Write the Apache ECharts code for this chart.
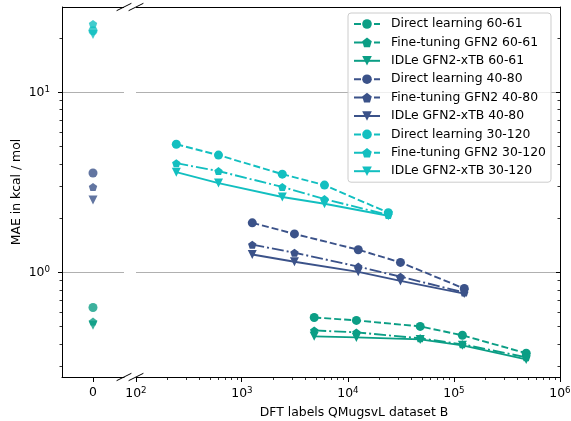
<!DOCTYPE html>
<html>
<head>
<meta charset="utf-8">
<script src="https://cdn.jsdelivr.net/npm/echarts@6/dist/echarts.min.js"></script>
<style>
  html, body { margin: 0; padding: 0; background: #fff; }
  #main { width: 571px; height: 421px; }
</style>
</head>
<body>
<div id="main"></div>
<script>
// number of DFT labels per training set size
var size6061 = [4800, 12000, 48000, 120000, 480000];
var size4080 = [1250, 3125, 12500, 31250, 125000];
var size30120 = [240, 600, 2400, 6000, 24000];

// MAE in kcal/mol
var direct6061 = [0.564, 0.543, 0.503, 0.449, 0.357];
var fine6061 = [0.478, 0.466, 0.432, 0.400, 0.339];
var idle6061 = [0.443, 0.437, 0.426, 0.395, 0.330];

var direct4080 = [1.89, 1.64, 1.34, 1.14, 0.816];
var fine4080 = [1.43, 1.29, 1.08, 0.95, 0.775];
var idle4080 = [1.26, 1.15, 1.01, 0.90, 0.765];

var direct30120 = [5.16, 4.49, 3.52, 3.06, 2.15];
var fine30120 = [4.05, 3.66, 2.99, 2.56, 2.09];
var idle30120 = [3.61, 3.14, 2.63, 2.41, 2.07];

// MAE with 0 DFT labels: direct, fine-tuning, IDLe
var zero6061 = [0.64, 0.535, 0.51];
var zero4080 = [3.57, 2.99, 2.53];
var zero30120 = [22.0, 24.0, 21.0];

// ticks
var xMajorTicks = [1e2, 1e3, 1e4, 1e5, 1e6];
var yMajorTicks = [1, 10];
var xMinorTicks = [];
[1e2, 1e3, 1e4, 1e5].forEach(function (d) {
  for (var k = 2; k <= 9; k++) xMinorTicks.push(k * d);
});
var yMinorTicks = [0.3, 0.4, 0.5, 0.6, 0.7, 0.8, 0.9, 2, 3, 4, 5, 6, 7, 8, 9, 20];

var chart = echarts.init(document.getElementById('main'));

var FONT = 'DejaVu Sans';
var pentagon = 'path://M0,-1L0.951,-0.309L0.588,0.809L-0.588,0.809L-0.951,-0.309Z';

// plot areas: left (0 labels) and right (log scale)
var G0 = { left: 62, top: 7, width: 62, height: 370 };
var G1 = { left: 136, top: 7, width: 424, height: 370 };
var BOTTOM = G0.top + G0.height;
var RIGHT = G1.left + G1.width;

var groups = [
  { tag: '60-61', color: '#0b9e85', x: size6061, vals: [direct6061, fine6061, idle6061], zero: zero6061 },
  { tag: '40-80', color: '#3b5289', x: size4080, vals: [direct4080, fine4080, idle4080], zero: zero4080 },
  { tag: '30-120', color: '#12bfc0', x: size30120, vals: [direct30120, fine30120, idle30120], zero: zero30120 }
];
var methods = [
  { name: 'Direct learning', symbol: 'circle', size: 9, rotate: 0, dash: [7, 3] },
  { name: 'Fine-tuning GFN2', symbol: pentagon, size: [8.4, 8], rotate: 0, dash: [12, 3, 2, 3] },
  { name: 'IDLe GFN2-xTB', symbol: 'triangle', size: 9, rotate: 180, dash: 'solid' }
];

var legendNames = [];
var series = [];
groups.forEach(function (g) {
  methods.forEach(function (m, i) {
    var name = m.name + ' ' + g.tag;
    legendNames.push(name);
    series.push({
      name: name,
      type: 'line',
      xAxisIndex: 1,
      yAxisIndex: 1,
      data: g.x.map(function (x, j) { return [x, g.vals[i][j]]; }),
      symbol: m.symbol,
      symbolSize: m.size,
      symbolRotate: m.rotate,
      showAllSymbol: true,
      color: g.color,
      itemStyle: { color: g.color },
      lineStyle: { color: g.color, width: 1.9, type: m.dash }
    });
    series.push({
      name: name + ' (0)',
      type: 'scatter',
      xAxisIndex: 0,
      yAxisIndex: 0,
      data: [[0, g.zero[i]]],
      symbol: m.symbol,
      symbolSize: m.size,
      symbolRotate: m.rotate,
      itemStyle: { color: g.color }
    });
  });
});

function powLabel(v) {
  var e = Math.log10(v);
  return Math.abs(e - Math.round(e)) < 1e-6 ? '10{sup|' + Math.round(e) + '}' : '';
}
function labelStyle(margin, values) {
  return {
    customValues: values, margin: margin, fontFamily: FONT, fontSize: 12.4, color: '#000',
    formatter: powLabel,
    rich: { sup: { fontSize: 8.7, fontFamily: FONT, color: '#000', padding: [0, 0, 6, 0] } }
  };
}
var gridLines = { show: true, customValues: yMajorTicks, lineStyle: { color: '#b0b0b0', width: 1 } };

var option = {
  animation: false,
  grid: [
    Object.assign({ outerBoundsMode: 'none' }, G0),
    Object.assign({ outerBoundsMode: 'none' }, G1)
  ],
  xAxis: [
    {
      gridIndex: 0, type: 'value', min: -1, max: 1, position: 'bottom',
      axisLine: { show: true, onZero: false, lineStyle: { color: '#000', width: 1 } },
      axisTick: { show: false },
      axisLabel: { customValues: [0], margin: 10, fontFamily: FONT, fontSize: 12.4, color: '#000' },
      splitLine: { show: false }
    },
    {
      gridIndex: 1, type: 'log', logBase: 10, min: 100, max: 1e6, position: 'bottom',
      name: 'DFT labels QMugsvL dataset B', nameLocation: 'middle', nameGap: 30,
      nameTextStyle: { fontFamily: FONT, fontSize: 12.4, color: '#000', padding: [0, 0, 0, 12] },
      axisLine: { show: true, onZero: false, lineStyle: { color: '#000', width: 1 } },
      axisTick: { show: false },
      axisLabel: labelStyle(9, xMajorTicks),
      splitLine: { show: false }
    }
  ],
  yAxis: [
    {
      gridIndex: 0, type: 'log', logBase: 10, min: 0.2635, max: 29.8, position: 'left',
      name: 'MAE in kcal / mol', nameLocation: 'middle', nameGap: 39,
      nameTextStyle: { fontFamily: FONT, fontSize: 12.4, color: '#000' },
      axisLine: { show: true, onZero: false, lineStyle: { color: '#000', width: 1 } },
      axisTick: { show: false },
      axisLabel: labelStyle(12, yMajorTicks),
      splitLine: gridLines
    },
    {
      gridIndex: 1, type: 'log', logBase: 10, min: 0.2635, max: 29.8, position: 'right',
      axisLine: { show: true, onZero: false, lineStyle: { color: '#000', width: 1 } },
      axisTick: { show: false },
      axisLabel: { show: false },
      splitLine: gridLines
    }
  ],
  legend: {
    data: legendNames,
    orient: 'vertical',
    left: 348,
    top: 13,
    padding: [5, 5, 5, 5],
    itemWidth: 26,
    itemHeight: 12,
    itemGap: 6.4,
    backgroundColor: 'rgba(255,255,255,0.8)',
    borderColor: '#cccccc',
    borderWidth: 1,
    borderRadius: 3,
    textStyle: { fontFamily: FONT, fontSize: 12.4, color: '#000', padding: [0, 0, 0, 6] }
  },
  series: series
};

chart.setOption(option);

// spines and ticks as thin filled boxes, placed through the axes' own scales
function box(x, y, w, h) {
  return {
    type: 'rect', silent: true, z: 50,
    shape: { x: x, y: y, width: w, height: h },
    style: { fill: '#000' }
  };
}
function seg(x1, y1, x2, y2) {
  return {
    type: 'line', silent: true, z: 50,
    shape: { x1: x1, y1: y1, x2: x2, y2: y2 },
    style: { stroke: '#000', lineWidth: 1 }
  };
}
function row(p) { return Math.round(p - 0.5); }

var deco = [];
var L = G0.left, R0 = G0.left + G0.width, T = G0.top, B = BOTTOM, R = RIGHT;
// spines
deco.push(box(L, T, 1, B - T + 1));
deco.push(box(R, T, 1, B - T + 1));
deco.push(box(L, T, R0 - L, 1));
deco.push(box(G1.left, T, R - G1.left + 1, 1));
// y ticks: outward on the left, inward on the right
yMajorTicks.forEach(function (v) {
  var y = row(chart.convertToPixel({ yAxisIndex: 0 }, v));
  deco.push(box(L - 4, y, 4, 1));
  deco.push(box(R - 4, y, 4, 1));
});
yMinorTicks.forEach(function (v) {
  var y = row(chart.convertToPixel({ yAxisIndex: 0 }, v));
  deco.push(box(L - 2.5, y, 2.5, 0.8));
  deco.push(box(R - 2.5, y, 2.5, 0.8));
});
// x ticks
var x0 = row(chart.convertToPixel({ xAxisIndex: 0 }, 0));
deco.push(box(x0, B, 1, 5));
xMajorTicks.forEach(function (v) {
  var x = row(chart.convertToPixel({ xAxisIndex: 1 }, v));
  deco.push(box(x, B, 1, 5));
});
xMinorTicks.forEach(function (v) {
  var x = row(chart.convertToPixel({ xAxisIndex: 1 }, v));
  deco.push(box(x, B, 0.8, 3));
});
// broken-axis slashes
[[R0, T], [G1.left, T], [R0, B], [G1.left, B]].forEach(function (c) {
  deco.push(seg(c[0] - 7.4, c[1] + 3.7, c[0] + 7.4, c[1] - 3.7));
});

chart.setOption({ graphic: deco });
</script>
</body>
</html>
